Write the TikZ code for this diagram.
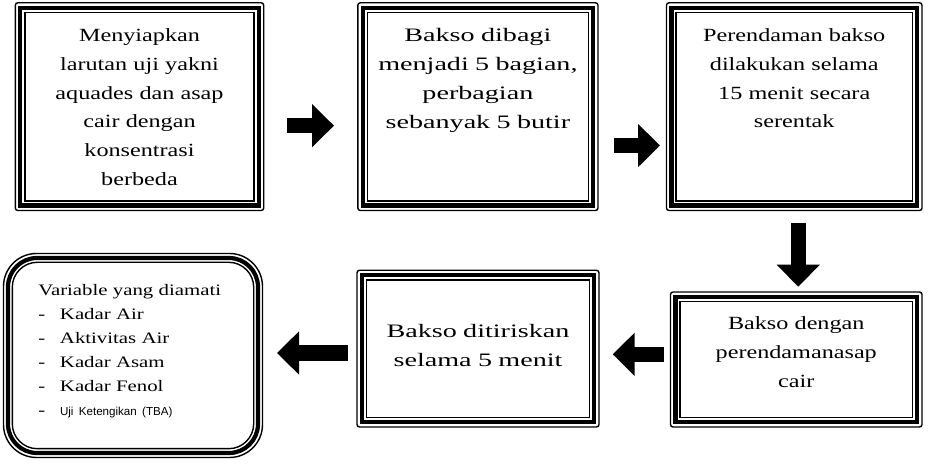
\documentclass[tikz,border=0pt]{standalone}
\usepackage{fontspec}
\setmainfont{Liberation Serif}
\newfontfamily\stepfont{Liberation Serif}[FakeStretch=1.3]
\newfontfamily\stepfontwide{Liberation Serif}[FakeStretch=1.48]
\newfontfamily\notefont{Liberation Sans}
\usetikzlibrary{arrows.meta}

\begin{document}
\begin{tikzpicture}[x=1bp,y=1bp,
  stepbox/.style={draw=black,line width=4.2bp,outer sep=0pt,inner sep=0pt,align=center,
    font=\stepfont\fontsize{18.6bp}{28.7bp}\selectfont},
  widetext/.style={font=\stepfontwide\fontsize{19bp}{29bp}\selectfont},
  thinline/.style={draw=black,line width=1.4bp},
  blockarrow/.style={line width=15.5bp,-{Triangle[width=42bp,length=22bp]}}]
\useasboundingbox (0,0) rectangle (928,465);

% top row
\node[stepbox,anchor=north west,text width=238.4bp,text height=33.9bp,text depth=163.8bp] (b1) at (20.3,457.2)
  {Menyiapkan\\ larutan uji yakni\\ aquades dan asap\\ cair dengan\\ konsentrasi\\ berbeda};
\node[stepbox,widetext,anchor=north west,text width=230.2bp,text height=33.9bp,text depth=163.8bp] (b2) at (362.8,457.2)
  {Bakso dibagi\\ menjadi 5 bagian,\\ perbagian\\ sebanyak 5 butir};
\node[stepbox,anchor=north west,text width=245.5bp,text height=33.9bp,text depth=163.8bp] (b3) at (671.5,457.2)
  {Perendaman bakso\\ dilakukan selama\\ 15 menit secara\\ serentak};

% bottom row
\node[stepbox,anchor=north west,text width=241.5bp,text height=33bp,text depth=92bp] (b4) at (675.5,168)
  {Bakso dengan\\ perendamanasap\\ cair};
\node[stepbox,widetext,anchor=north west,text width=232bp,text height=62.7bp,text depth=84bp] (b5) at (362,189.7)
  {Bakso ditiriskan\\ selama 5 menit};
\node[draw=black,line width=4.2bp,rounded corners=29bp,outer sep=0pt,anchor=north west,
  inner xsep=30.3bp,inner ysep=0pt,text width=189.4bp,align=left,text height=38bp,text depth=157bp,
  font=\stepfont\fontsize{16bp}{24bp}\selectfont] (b6) at (8,207)
  {Variable yang diamati\\
   \makebox[21.7bp][l]{-}Kadar Air\\
   \makebox[21.7bp][l]{-}Aktivitas Air\\
   \makebox[21.7bp][l]{-}Kadar Asam\\
   \makebox[21.7bp][l]{-}Kadar Fenol\\
   \makebox[21.7bp][l]{-}{\notefont\fontsize{11.6bp}{24bp}\selectfont Uji Ketengikan (TBA)}};

% outer and inner thin lines
\foreach \n in {b1,b2,b3,b4,b5}{
  \draw[thinline,rounded corners=2.5bp] ([shift={(-5bp,5bp)}]\n.north west) rectangle ([shift={(5bp,-5bp)}]\n.south east);
  \draw[thinline] ([shift={(4.6bp,-4.6bp)}]\n.north west) rectangle ([shift={(-4.6bp,4.6bp)}]\n.south east);
}
\draw[thinline,rounded corners=33bp] ([shift={(-4.5bp,4.5bp)}]b6.north west) rectangle ([shift={(4.5bp,-4.5bp)}]b6.south east);
\draw[thinline,rounded corners=25bp] ([shift={(4.3bp,-4.3bp)}]b6.north west) rectangle ([shift={(-4.3bp,4.3bp)}]b6.south east);

% arrows
\draw[blockarrow,shorten <=28.3bp,shorten >=28.8bp] ([yshift=-19bp]b1.east) -- ([yshift=-19bp]b1.east -| b2.west);
\draw[blockarrow,shorten <=21bp,shorten >=11.5bp] ([yshift=-38.9bp]b2.east) -- ([yshift=-38.9bp]b2.east -| b3.west);
\draw[blockarrow,shorten <=17.8bp,shorten >=10.3bp] ([xshift=4bp]b3.south) -- ([xshift=4bp]b3.south |- b4.north);
\draw[blockarrow,shorten <=11.5bp,shorten >=18.7bp] ([yshift=5.2bp]b4.west) -- ([yshift=5.2bp]b4.west -| b5.east);
\draw[blockarrow,shorten <=14bp,shorten >=19bp] ([yshift=-4.35bp]b5.west) -- ([yshift=-4.35bp]b5.west -| b6.east);
\end{tikzpicture}
\end{document}
